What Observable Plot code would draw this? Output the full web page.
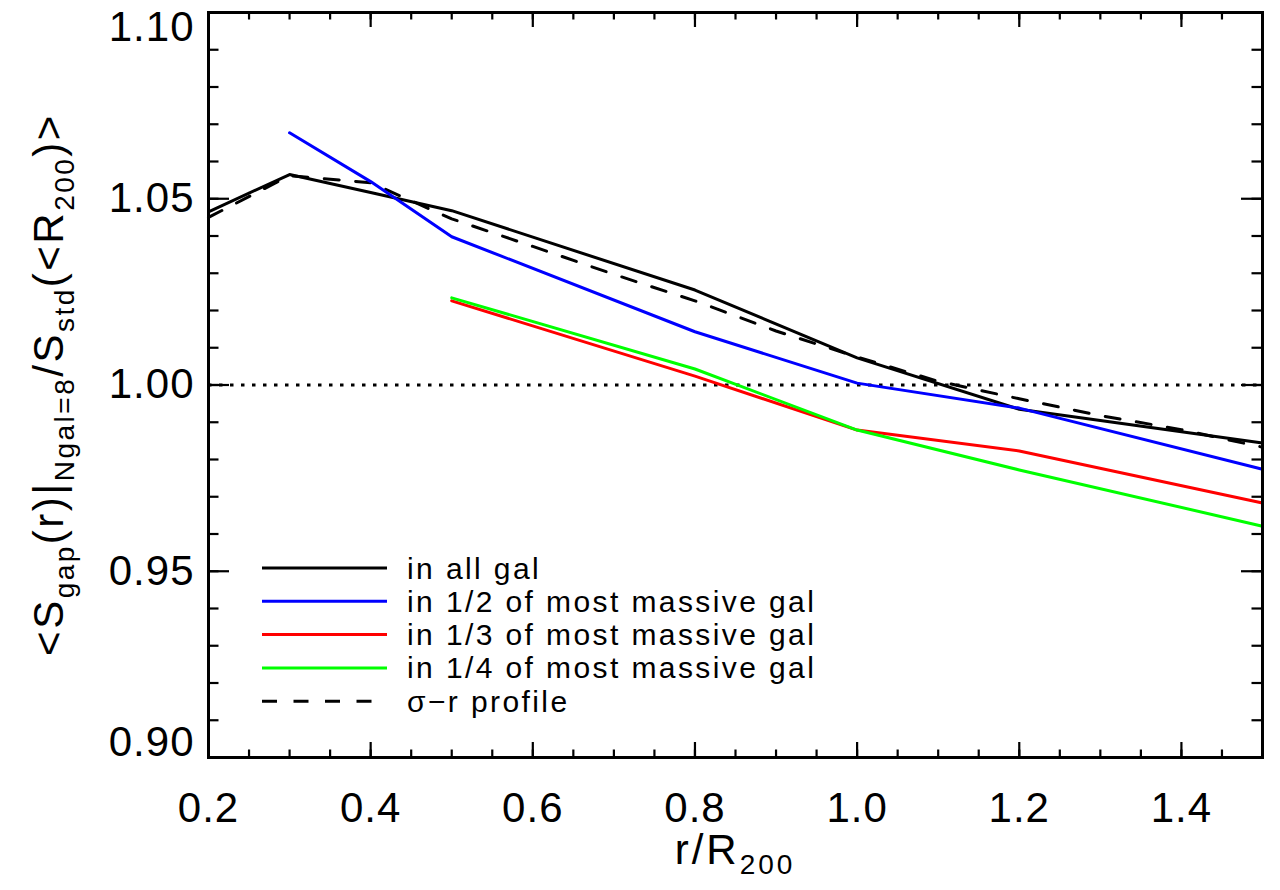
<!DOCTYPE html>
<html>
<head>
<meta charset="utf-8">
<script src="https://cdn.jsdelivr.net/npm/d3@7"></script>
<script src="https://cdn.jsdelivr.net/npm/@observablehq/plot@0.6"></script>
<style>
  body { margin: 0; background: #fff; }
  #chart svg { font-family: "Liberation Sans", sans-serif; }
</style>
</head>
<body>
<div id="chart"></div>
<script>
// Radius in units of R200 and the mean gap-statistic ratio for each galaxy selection
const rAll = [0.2, 0.3, 0.4, 0.5, 0.8, 1.0, 1.2, 1.5];
const sAll = [1.0465, 1.0565, 1.0517, 1.0468, 1.0255, 1.0073, 0.9935, 0.9844];

const rHalf = [0.3, 0.4, 0.5, 0.8, 1.0, 1.2, 1.5];
const sHalf = [1.0677, 1.0546, 1.0398, 1.0143, 1.0005, 0.9938, 0.9774];

const rThird = [0.5, 0.8, 1.0, 1.2, 1.5];
const sThird = [1.0226, 1.0024, 0.9879, 0.9823, 0.9683];

const rQuarter = [0.5, 0.8, 1.0, 1.2, 1.5];
const sQuarter = [1.0234, 1.0043, 0.9879, 0.9772, 0.9621];

// sigma-r profile expectation
const rProfile = [0.2, 0.3, 0.4, 0.5, 0.6, 0.7, 0.8, 0.9, 1.0, 1.1, 1.2, 1.3, 1.4, 1.5];
const sProfile = [1.0450, 1.0562, 1.0543, 1.0446, 1.0372, 1.0297, 1.0226, 1.0145, 1.0075, 1.0010, 0.9963, 0.9918, 0.9880, 0.9833];

// Axis ticks
const xMajor = [0.2, 0.4, 0.6, 0.8, 1.0, 1.2, 1.4];
const xMinor = d3.range(0, 27).map(i => +(0.2 + i * 0.05).toFixed(2));
const yMajor = [0.90, 0.95, 1.00, 1.05, 1.10];
const yMinor = d3.range(0, 21).map(i => +(0.90 + i * 0.01).toFixed(2));

const legendLabels = [
  "in all gal",
  "in 1/2 of most massive gal",
  "in 1/3 of most massive gal",
  "in 1/4 of most massive gal",
  "\u03c3\u2212r profile"
];
const legendColors = ["#000000", "#0000ff", "#ff0000", "#00ff00", "#000000"];
const legendDashed = [false, false, false, false, true];

const toRows = (r, s) => r.map((x, i) => ({r: x, s: s[i]}));

const W = 1280, H = 890;
const mL = 208, mR = 18, mT = 12, mB = 133;
const innerW = W - mL - mR, innerH = H - mT - mB;
const tickStroke = 2.2;
const font = "Liberation Sans, sans-serif";

// y tick labels: the end labels are nudged inside the frame
const yFmt = d3.format(".2f");
const yInner = yMajor.slice(1, -1);
const yLow = [yMajor[0]];
const yHigh = [yMajor[yMajor.length - 1]];
const yLabelOpts = {tickSize: 0, tickPadding: 14, tickFormat: yFmt, fontSize: 42, fill: "#000", label: null};

const svg = Plot.plot({
  width: W,
  height: H,
  marginLeft: mL,
  marginRight: mR,
  marginTop: mT,
  marginBottom: mB,
  style: {background: "#fff", fontFamily: font, overflow: "visible"},
  x: {domain: [0.2, 1.5], label: null},
  y: {domain: [0.90, 1.10], label: null},
  marks: [
    // reference level
    Plot.ruleY([1.0], {stroke: "#000", strokeWidth: 3, strokeDasharray: "3.5,7.5"}),
    // series
    Plot.line(toRows(rProfile, sProfile), {x: "r", y: "s", stroke: "#000", strokeWidth: 3, strokeDasharray: "15,16.5"}),
    Plot.line(toRows(rAll, sAll), {x: "r", y: "s", stroke: "#000", strokeWidth: 3}),
    Plot.line(toRows(rHalf, sHalf), {x: "r", y: "s", stroke: "#0000ff", strokeWidth: 3}),
    Plot.line(toRows(rThird, sThird), {x: "r", y: "s", stroke: "#ff0000", strokeWidth: 3}),
    Plot.line(toRows(rQuarter, sQuarter), {x: "r", y: "s", stroke: "#00ff00", strokeWidth: 3}),
    // inward ticks on all four sides
    Plot.ruleX(xMinor, {x: d => d, insetTop: innerH - 7.5, stroke: "#000", strokeWidth: tickStroke}),
    Plot.ruleX(xMinor, {x: d => d, insetBottom: innerH - 7.5, stroke: "#000", strokeWidth: tickStroke}),
    Plot.ruleX(xMajor, {x: d => d, insetTop: innerH - 15, stroke: "#000", strokeWidth: tickStroke}),
    Plot.ruleX(xMajor, {x: d => d, insetBottom: innerH - 15, stroke: "#000", strokeWidth: tickStroke}),
    Plot.ruleY(yMinor, {y: d => d, insetRight: innerW - 10.5, stroke: "#000", strokeWidth: tickStroke}),
    Plot.ruleY(yMinor, {y: d => d, insetLeft: innerW - 10.5, stroke: "#000", strokeWidth: tickStroke}),
    Plot.ruleY(yMajor, {y: d => d, insetRight: innerW - 21, stroke: "#000", strokeWidth: tickStroke}),
    Plot.ruleY(yMajor, {y: d => d, insetLeft: innerW - 21, stroke: "#000", strokeWidth: tickStroke}),
    // tick labels
    Plot.axisX(xMajor, {tickSize: 0, tickPadding: 35, tickFormat: d3.format(".1f"), fontSize: 42, fill: "#000", label: null}),
    Plot.axisY(yInner, yLabelOpts),
    Plot.axisY(yLow, {...yLabelOpts, dy: -15}),
    Plot.axisY(yHigh, {...yLabelOpts, dy: 15}),
    Plot.frame({stroke: "#000", strokeWidth: 3})
  ]
});

document.getElementById("chart").appendChild(svg);

const root = d3.select(svg);
root.selectAll("g[aria-label$='axis tick label'] text, g[aria-label='y-axis tick label'] text, g[aria-label='x-axis tick label'] text")
  .style("letter-spacing", "1px");

// x-axis title with subscript
const xt = root.append("text")
  .attr("x", mL + innerW / 2)
  .attr("y", 864)
  .attr("text-anchor", "middle")
  .attr("font-size", 42)
  .attr("fill", "#000")
  .style("letter-spacing", "3px");
xt.append("tspan").text("r/R");
xt.append("tspan").attr("font-size", 28).attr("dy", 10).text("200");

// y-axis title with subscripts
const yt = root.append("text")
  .attr("transform", `translate(63,${mT + innerH / 2}) rotate(-90)`)
  .attr("text-anchor", "middle")
  .attr("font-size", 42)
  .attr("fill", "#000")
  .style("letter-spacing", "2.5px");
const parts = [
  ["<S", false], ["gap", true], ["(r)|", false], ["Ngal=8", true],
  ["/S", false], ["std", true], ["(<R", false], ["200", true], [")>", false]
];
let sub = false;
for (const [t, isSub] of parts) {
  const dy = isSub === sub ? 0 : (isSub ? 11 : -11);
  yt.append("tspan").attr("font-size", isSub ? 28 : 42).attr("dy", dy).text(t);
  sub = isSub;
}

// legend
const lg = root.append("g")
  .attr("font-size", 30)
  .attr("fill", "#000")
  .attr("text-anchor", "start")
  .style("letter-spacing", "2.4px");
legendLabels.forEach((label, i) => {
  const y = 568 + i * 33.3;
  lg.append("line")
    .attr("x1", 262).attr("x2", legendDashed[i] ? 372 : 387)
    .attr("y1", y).attr("y2", y)
    .attr("stroke", legendColors[i]).attr("stroke-width", 3)
    .attr("stroke-dasharray", legendDashed[i] ? "15,16.5" : null);
  lg.append("text")
    .attr("x", 407).attr("y", y).attr("dy", "0.35em")
    .attr("text-anchor", "start")
    .text(label);
});
</script>
</body>
</html>
